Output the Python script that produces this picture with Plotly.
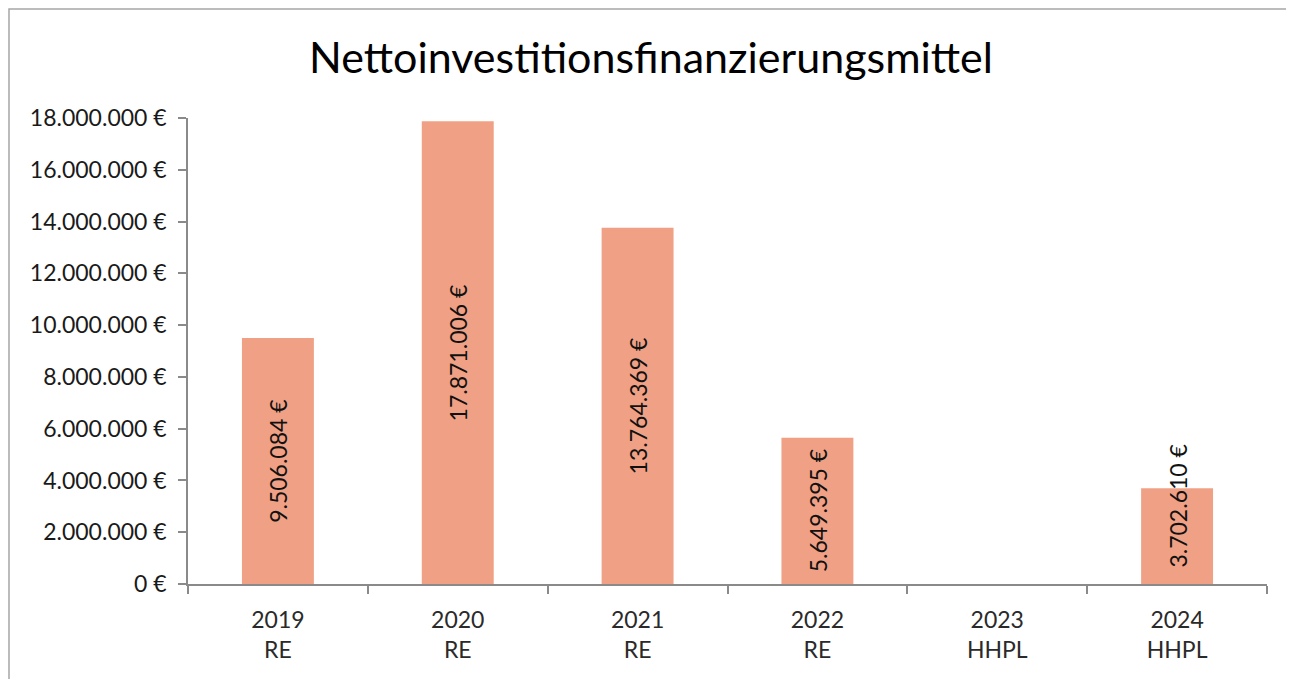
import plotly.graph_objects as go

years = ["2019", "2020", "2021", "2022", "2023", "2024"]
kinds = ["RE", "RE", "RE", "RE", "HHPL", "HHPL"]
values = [9506084, 17871006, 13764369, 5649395, None, 3702610]
y_ticks = [0, 2000000, 4000000, 6000000, 8000000, 10000000, 12000000, 14000000, 16000000, 18000000]

def de(n):
    return f"{n:,.0f}".replace(",", ".") + " €"

cats = [f"{y}<br>{k}" for y, k in zip(years, kinds)]

FONT = "Lato"
AX = "#8A8A8A"

fig = go.Figure(go.Bar(
    x=cats, y=values, width=0.4,
    marker=dict(color="#F0A084", line=dict(width=0)),
    hoverinfo="x+y",
))

# value labels (rotated), centred in the bar; small bars anchored at the base
for c, v in zip(cats, values):
    if v is None:
        continue
    small = v < 5000000
    fig.add_annotation(
        x=c, y=0 if small else v / 2, xref="x", yref="y",
        text=de(v), textangle=-90, showarrow=False,
        yanchor="bottom" if small else "middle", yshift=14 if small else 0,
        font=dict(family=FONT, size=23, color="#111111"),
    )

fig.update_layout(
    width=1286, height=671,
    margin=dict(l=180, r=27, t=110, b=95),
    paper_bgcolor="white", plot_bgcolor="white",
    showlegend=False,
    title=dict(text="Nettoinvestitionsfinanzierungsmittel", x=0.5, xanchor="center",
               xref="container", y=0.9255, yanchor="middle",
               font=dict(family=FONT, size=43, color="#000000")),
    font=dict(family=FONT, size=23, color="#333333"),
)
fig.update_yaxes(range=[0, 18000000], tickvals=y_ticks, ticktext=[de(t) for t in y_ticks],
                 showgrid=False, zeroline=False, showline=True, linecolor=AX, linewidth=1.5,
                 ticks="outside", ticklen=8, tickcolor=AX, tickwidth=1.5,
                 ticklabelstandoff=7,
                 tickfont=dict(family=FONT, size=23, color="#1a1a1a"))
fig.update_xaxes(showgrid=False, showline=True, linecolor=AX, linewidth=1.5,
                 ticks="outside", tickson="boundaries", ticklen=8, tickcolor=AX, tickwidth=1.5,
                 ticklabelstandoff=15,
                 tickfont=dict(family=FONT, size=23, color="#2a2a2a"))

fig.add_shape(type="rect", xref="paper", yref="paper",
              x0=-0.1659, x1=1.0232, y0=-0.3, y1=1.2339,
              line=dict(color="#A6A6A6", width=1.5), fillcolor="rgba(0,0,0,0)", layer="below")

fig.write_html("out.html")
